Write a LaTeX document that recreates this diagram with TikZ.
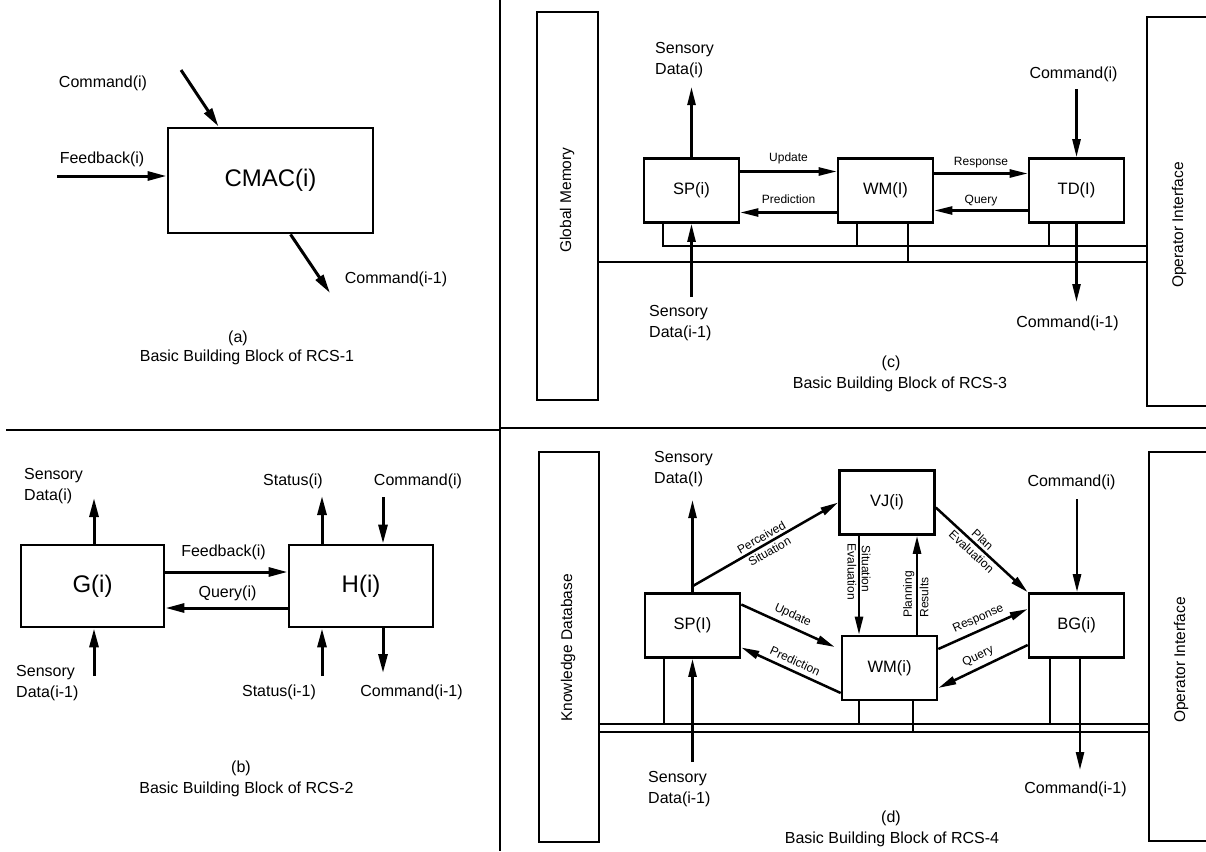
\documentclass[tikz,border=0pt]{standalone}
\usepackage{fontspec}
\setmainfont{Liberation Sans}
\usetikzlibrary{arrows.meta, positioning, calc}
\tikzset{
  bigbox/.style={draw, line width=2.9pt, inner sep=0pt, font=\fontsize{24}{28}\selectfont},
  smbox/.style={draw, line width=2.6pt, inner sep=0pt, minimum width=95pt,
                minimum height=64pt, font=\fontsize{16.5}{20}\selectfont},
  bar/.style={draw, line width=2.5pt, inner sep=0pt},
  barlbl/.style={rotate=90, inner sep=0pt, font=\fontsize{15.5}{18}\selectfont},
  lbl/.style={inner sep=0pt, align=left, font=\fontsize{16}{21}\selectfont},
  tag/.style={inner sep=1.5pt, align=center, font=\fontsize{12}{15.5}\selectfont},
  captxt/.style={inner sep=0pt, font=\fontsize{16}{20}\selectfont},
  arr/.style={-{Triangle[length=19pt,width=9pt]}, line width=3pt},
  sarr/.style={-{Triangle[length=18pt,width=8pt]}, line width=2.5pt},
  bus/.style={line width=2.4pt},
  rule/.style={line width=2.3pt},
}

\begin{document}
\begin{tikzpicture}[x=1pt, y=-1pt]
  \useasboundingbox (0,0) rectangle (1206,851);
  % panel rules
  \draw[rule] (500,0) -- (500,851);
  \draw[rule] (6,430) -- (500,430);
  \draw[rule] (500,428) -- (1206,428);

  % (a)
  \node[bigbox, minimum width=205pt, minimum height=105pt] (cmac) at (270.5,180.5) {CMAC(i)};
  \coordinate (cmdin) at (181,70);
  \coordinate (fbin) at (57,176);
  \coordinate (cmdout) at (330,293);
  \draw[arr] (cmdin) -- ([xshift=52pt]cmac.north west);
  \draw[arr] (fbin) -- (fbin -| cmac.west);
  \draw[arr] ([xshift=124pt]cmac.south west) -- (cmdout);
  \node[lbl] (lcmdin) at (103,83) {Command(i)};
  \node[lbl] (lfbin) at (102,159) {Feedback(i)};
  \node[lbl] (lcmdout) at (396,279) {Command(i-1)};
  \node[captxt] (tga) at (238,338) {(a)};
  \node[captxt] (capa) at (247,357) {Basic Building Block of RCS-1};

  % (b)
  \node[bigbox, minimum width=143pt, minimum height=82pt] (g) at (92.5,586) {G(i)};
  \node[bigbox, minimum width=144pt, minimum height=82pt] (h) at (361,586) {H(i)};
  \coordinate (gsdo) at (94,498);
  \coordinate (gsdi) at (94,676);
  \coordinate (hsto) at (322,496);
  \coordinate (hcmi) at (383,497);
  \coordinate (hsti) at (322,676);
  \coordinate (hcmo) at (383,673);
  \draw[arr] (g.north -| gsdo) -- (gsdo);
  \draw[arr] (gsdi) -- (gsdi |- g.south);
  \draw[arr] ([yshift=14pt]g.east) -- ([yshift=14pt]h.west);
  \draw[arr] ([yshift=-22pt]h.west) -- ([yshift=-22pt]g.east);
  \draw[arr] (h.north -| hsto) -- (hsto);
  \draw[arr] (hcmi) -- (hcmi |- h.north);
  \draw[arr] (hsti) -- (hsti |- h.south);
  \draw[arr] (h.south -| hcmo) -- (hcmo);
  \node[lbl, anchor=west] (lgsdo) at (24,486.5) {Sensory\\Data(i)};
  \node[lbl, anchor=west] (lgsdi) at (16,683) {Sensory\\Data(i-1)};
  \node[lbl] (lfb) at (223.5,552) {Feedback(i)};
  \node[lbl] (lq) at (227.5,593) {Query(i)};
  \node[lbl] (lhsto) at (293,481) {Status(i)};
  \node[lbl] (lhcmi) at (418,481) {Command(i)};
  \node[lbl] (lhsti) at (279,692) {Status(i-1)};
  \node[lbl] (lhcmo) at (411.5,692) {Command(i-1)};
  \node[captxt] (tgb) at (241,768) {(b)};
  \node[captxt] (capb) at (246.5,789) {Basic Building Block of RCS-2};

  % (c)
  \node[bar, minimum width=61pt, minimum height=388pt] (gm) at (567.5,206) {};
  \node[barlbl] (lgm) at (567,200) {Global Memory};
  \node[bar, minimum width=68pt, minimum height=389pt] (oi3) at (1181,211.5) {};
  \node[barlbl] (loi3) at (1179,225) {Operator Interface};
  \node[smbox] (sp3) at (691.5,190.5) {SP(i)};
  \node[smbox] (wm3) at (885.5,190.5) {WM(I)};
  \node[smbox] (td3) at (1076.5,190.5) {TD(I)};
  \coordinate (sp3o) at (691.5,87);
  \coordinate (sp3i) at (691.5,297);
  \coordinate (td3i) at (1076.5,89);
  \coordinate (td3o) at (1076.5,302);
  \draw[sarr] (sp3.north) -- (sp3o);
  \draw[sarr] (sp3i) -- (sp3.south);
  \draw[sarr] ([yshift=19pt]sp3.east) -- ([yshift=19pt]wm3.west)
    node[tag, midway, above=5pt] (lup3) {Update};
  \draw[sarr] ([yshift=-22pt]wm3.west) -- ([yshift=-22pt]sp3.east)
    node[tag, midway, above=6pt] (lpr3) {Prediction};
  \draw[sarr] ([yshift=17pt]wm3.east) -- ([yshift=17pt]td3.west)
    node[tag, midway, above=3pt] (lre3) {Response};
  \draw[sarr] ([yshift=-20pt]td3.west) -- ([yshift=-20pt]wm3.east)
    node[tag, midway, above=2pt] (lqu3) {Query};
  \draw[sarr] (td3i) -- (td3.north);
  \draw[sarr] (td3.south) -- (td3o);
  \coordinate (t3sp) at (663,246);
  \coordinate (t3wa) at (857,246);
  \coordinate (t3wb) at (908,262);
  \coordinate (t3td) at (1049,246);
  \draw[bus] (sp3.south -| t3sp) |- (oi3.west |- t3sp);
  \draw[bus] (gm.east |- t3wb) -- (oi3.west |- t3wb);
  \draw[bus] (wm3.south -| t3wa) -- (t3wa);
  \draw[bus] (wm3.south -| t3wb) -- (t3wb);
  \draw[bus] (td3.south -| t3td) -- (t3td);
  \node[lbl, anchor=west] (lsp3o) at (655,60.5) {Sensory\\Data(i)};
  \node[lbl, anchor=west] (lsp3i) at (649,323.5) {Sensory\\Data(i-1)};
  \node[lbl] (ltd3i) at (1073.5,74) {Command(i)};
  \node[lbl] (ltd3o) at (1067.5,323) {Command(i-1)};
  \node[captxt] (tgc) at (891,363) {(c)};
  \node[captxt] (capc) at (900,384) {Basic Building Block of RCS-3};

  % (d)
  \node[bar, minimum width=60pt, minimum height=390pt] (kd) at (569,647) {};
  \node[barlbl] (lkd) at (568,648) {Knowledge Database};
  \node[bar, minimum width=66pt, minimum height=389pt] (oi4) at (1182,646.5) {};
  \node[barlbl] (loi4) at (1181,660) {Operator Interface};
  \node[smbox] (sp4) at (692.5,625.5) {SP(I)};
  \node[smbox] (vj) at (887,502.5) {VJ(i)};
  \node[smbox] (wm4) at (889.5,668) {WM(i)};
  \node[smbox] (bg) at (1076.5,625.5) {BG(i)};
  \coordinate (sp4o) at (692.5,500);
  \coordinate (sp4i) at (692.5,762);
  \coordinate (bg4i) at (1077,499);
  \coordinate (bg4o) at (1080,770);
  \coordinate (se) at (859,0);
  \coordinate (pr) at (917,0);
  \draw[sarr] (sp4.north) -- (sp4o);
  \draw[sarr] (sp4i) -- (sp4.south);
  \draw[sarr] ([yshift=6pt]sp4.north) -- (vj.west)
    node[tag, midway, sloped, above=1pt] (lps1) {Perceived}
    node[tag, midway, sloped, below=1pt] (lps2) {Situation};
  \draw[sarr] ([yshift=21pt]sp4.east) -- ([xshift=-6pt,yshift=21pt]wm4.west)
    node[tag, midway, sloped, above=3pt] (lup4) {Update};
  \draw[sarr] ([yshift=-25pt]wm4.west) -- ([yshift=-22pt]sp4.east)
    node[tag, midway, sloped, above=3pt] (lpr4) {Prediction};
  \draw[sarr] (vj.south -| se) -- (wm4.north -| se)
    node[tag, pos=0.35, rotate=-90, above=1.5pt] (lse1) {Situation}
    node[tag, pos=0.35, rotate=-90, below=1.5pt] (lse2) {Evaluation};
  \draw[sarr] (wm4.north -| pr) -- (vj.south -| pr)
    node[tag, pos=0.39, rotate=90, above=1.5pt] (lpl1) {Planning}
    node[tag, pos=0.39, rotate=90, below=1.5pt] (lpl2) {Results};
  \draw[sarr] ([yshift=-5pt]vj.east) -- (bg.north west)
    node[tag, pos=0.45, sloped, above=1pt] (lpe1) {Plan}
    node[tag, pos=0.45, sloped, below=1pt] (lpe2) {Evaluation};
  \draw[sarr] ([yshift=19pt]wm4.east) -- ([yshift=16.5pt]bg.west)
    node[tag, midway, sloped, above=3pt] (lre4) {Response};
  \draw[sarr] ([yshift=-19.5pt]bg.west) -- ([yshift=-20pt]wm4.east)
    node[tag, midway, sloped, above=3pt] (lqu4) {Query};
  \draw[sarr] (bg4i) -- (bg4i |- bg.north);
  \draw[sarr] (bg.south -| bg4o) -- (bg4o);
  \coordinate (t4sp) at (664,724);
  \coordinate (t4wa) at (859,724);
  \coordinate (t4wb) at (913,732);
  \coordinate (t4bg) at (1050,724);
  \draw[bus] (kd.east |- t4sp) -- (oi4.west |- t4sp);
  \draw[bus] (kd.east |- t4wb) -- (oi4.west |- t4wb);
  \draw[bus] (sp4.south -| t4sp) -- (t4sp);
  \draw[bus] (wm4.south -| t4wa) -- (t4wa);
  \draw[bus] (wm4.south -| t4wb) -- (t4wb);
  \draw[bus] (bg.south -| t4bg) -- (t4bg);
  \node[lbl, anchor=west] (lsp4o) at (654,469.5) {Sensory\\Data(I)};
  \node[lbl, anchor=west] (lsp4i) at (648,789) {Sensory\\Data(i-1)};
  \node[lbl] (lbg4i) at (1071.5,482) {Command(i)};
  \node[lbl] (lbg4o) at (1075.5,789) {Command(i-1)};
  \node[captxt] (tgd) at (891,818) {(d)};
  \node[captxt] (capd) at (892,839) {Basic Building Block of RCS-4};
\end{tikzpicture}
\end{document}
